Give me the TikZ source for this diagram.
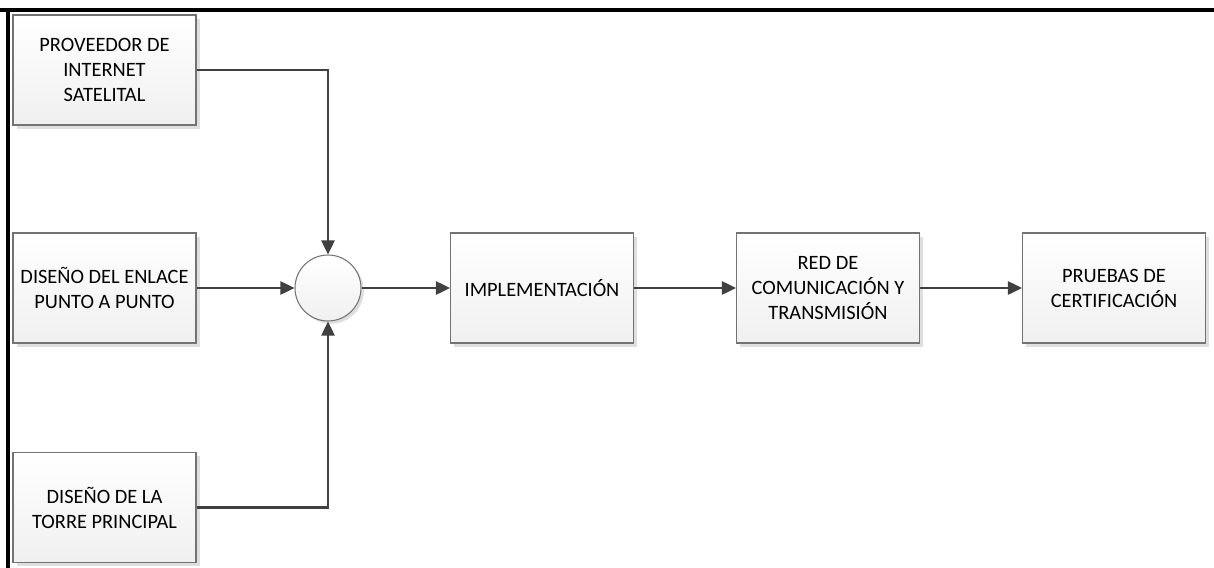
\documentclass[tikz,border=0pt]{standalone}
\usepackage{fontspec}
\setmainfont{Carlito}
\usetikzlibrary{arrows.meta,shadows}

\tikzset{
    blockbox/.style={draw=gray!90!black, line width=0.6pt,
        top color=white, bottom color=gray!12,
        drop shadow={shadow xshift=2.2pt, shadow yshift=-2.2pt, fill=gray!25, opacity=1},
        minimum width=3.66cm, minimum height=2.2cm, align=center,
        font=\fontsize{11.6pt}{14.2pt}\selectfont, inner sep=2pt},
    link/.style={line width=1.2pt, draw=black!75, -{Triangle[length=8pt,width=7.5pt]}}
}

\begin{document}
\begin{tikzpicture}[x=0.02cm,y=-0.02cm]
    \useasboundingbox (0,0) rectangle (1214,568);
    \draw [line width=1.8pt] (0,10) -- (1214,10);
    \draw [line width=1.8pt] (8,9) -- (8,568);

    \node[blockbox] (Proveedor) at (104.5,70) {PROVEEDOR DE\\INTERNET\\SATELITAL};
    \node[blockbox] (Enlace) at (104.5,288) {DISEÑO DEL ENLACE\\PUNTO A PUNTO};
    \node[blockbox] (Torre) at (104.5,507.5) {DISEÑO DE LA\\TORRE PRINCIPAL};

    \node[draw=gray!90!black, line width=0.6pt, circle, minimum size=1.32cm,
        top color=white, bottom color=gray!12,
        drop shadow={shadow xshift=1.6pt, shadow yshift=-1.6pt, fill=gray!25, opacity=1}]
        (Suma) at (328,288) {};

    \node[blockbox] (Implementacion) at (542,288) {IMPLEMENTACIÓN};
    \node[blockbox] (Red) at (828,288) {RED DE\\COMUNICACIÓN Y\\TRANSMISIÓN};
    \node[blockbox] (Pruebas) at (1114,288) {PRUEBAS DE\\CERTIFICACIÓN};

    \draw [link] (Proveedor.east) -| (Suma.north);
    \draw [link] (Enlace.east) -- (Suma.west);
    \draw [link] (Torre.east) -| (Suma.south);
    \draw [link] (Suma.east) -- (Implementacion.west);
    \draw [link] (Implementacion.east) -- (Red.west);
    \draw [link] (Red.east) -- (Pruebas.west);
\end{tikzpicture}
\end{document}
